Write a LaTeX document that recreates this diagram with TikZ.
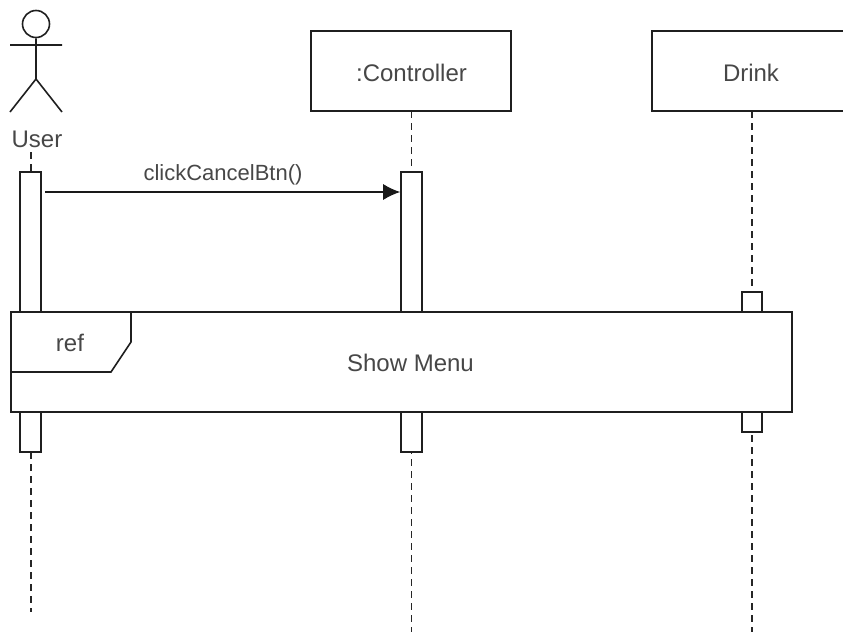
\documentclass[tikz,border=0pt]{standalone}
\usepackage{fontspec}
\usetikzlibrary{arrows.meta}
\setmainfont{Liberation Sans}
\tikzset{
 px/.style={x=1pt,y=-1pt},
 ln/.style={draw=black!88,line width=1.6pt},
 box/.style={ln,fill=white,rectangle,minimum width=#1,inner sep=0pt},
 life/.style={draw=black!85,line width=1.3pt,dash pattern=on 7pt off 5pt},
 lab/.style={text=black!72,inner sep=0pt,anchor=center,font=\fontsize{24}{26}\selectfont},
 smalllab/.style={lab,font=\fontsize{22}{24}\selectfont},
}
\begin{document}
\begin{tikzpicture}[px]
\useasboundingbox (0,0) rectangle (843,632);
\clip (0,0) rectangle (843,632);
% lifelines
\coordinate (u0) at (31,152); \coordinate (u1) at (31,612);
\coordinate (c0) at (411.5,111); \coordinate (c1) at (411.5,632);
\coordinate (d0) at (752,111); \coordinate (d1) at (752,632);
\draw[life] (u0) -- (u1);
\draw[life] (c0) -- (c1);
\draw[life] (d0) -- (d1);
% actor
\node[circle,ln,minimum size=27pt,inner sep=0pt] (head) at (36,24) {};
\coordinate (hip) at (36,79);
\coordinate (armL) at (10,45); \coordinate (armR) at (62,45);
\coordinate (legL) at (10,112); \coordinate (legR) at (62,112);
\draw[ln] (head.south) -- (hip) (armL) -- (armR) (legL) -- (hip) -- (legR);
\node[lab] (user) at (37,139) {User};
% heads
\node[box=200pt,minimum height=80pt] (ctrl) at (411,71) {};
\node[lab] at (411.5,72.5) {:Controller};
\node[box=200pt,minimum height=80pt] (drink) at (752,71) {};
\node[lab] at (751,72.5) {Drink};
% activations
\node[box=21pt,minimum height=280pt] (au) at (30.5,312) {};
\node[box=21pt,minimum height=280pt] (ac) at (411.5,312) {};
\node[box=20pt,minimum height=140pt] (ad) at (752,362) {};
% message
\coordinate (ms) at (45,192);
\coordinate (me) at (ac.west |- ms);
\draw[draw=black!90,line width=1.3pt,-{Latex[length=17pt,width=16pt]}] (ms) -- (me);
\node[smalllab] (msg) at (223,174.5) {clickCancelBtn()};
% ref
\node[box=781pt,minimum height=100pt] (ref) at (401.5,362) {};
\coordinate (t1) at (131,312); \coordinate (t2) at (131,342);
\coordinate (t3) at (111,372); \coordinate (t4) at (11,372);
\draw[ln] (t1) -- (t2) -- (t3) -- (t4);
\node[lab] at (70,343) {ref};
\node[lab] at (410.5,363) {Show Menu};
\end{tikzpicture}
\end{document}
